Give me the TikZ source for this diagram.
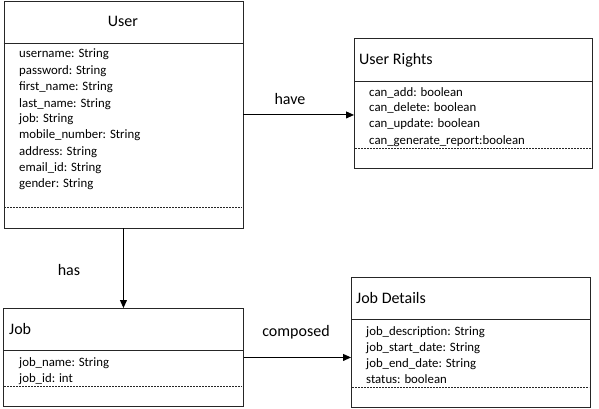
\documentclass[tikz,border=0pt]{standalone}
\usepackage{fontspec}
\setmainfont{Carlito}
\usetikzlibrary{arrows.meta}
\begin{document}
\begin{tikzpicture}[x=1pt,y=-1pt,
  umlbox/.style={draw=black!85, line width=0.9pt, rectangle, inner sep=0pt, anchor=north west},
  sepline/.style={draw=black!85, line width=0.9pt},
  dashsep/.style={draw=black!85, line width=0.8pt, dash pattern=on 2pt off 1pt},
  attr/.style={anchor=base west, inner sep=0pt, font=\fontsize{12.8}{14}\selectfont},
  title/.style={inner sep=0pt, font=\fontsize{16}{19}\selectfont},
  lbl/.style={anchor=base, inner sep=0pt, font=\fontsize{16}{19}\selectfont},
  arr/.style={draw=black, line width=0.9pt, -{Triangle[length=8pt,width=7pt]}}
]
\useasboundingbox (0,0) rectangle (599,409);

% User
\node[umlbox, minimum width=239pt, minimum height=226pt] (user) at (3.5,1.5) {};
\draw[sepline] (3.5,43) -- (242.5,43);
\draw[dashsep] (4,207) -- (242,207);
\node[title, anchor=base] (usert) at (123,27) {User};
\node[attr] (u1) at (19,58) {username: String};
\node[attr] (u2) at (19,75) {password: String};
\node[attr] (u3) at (19,91) {first\_name: String};
\node[attr] (u4) at (19,107) {last\_name: String};
\node[attr] (u5) at (19,123) {job: String};
\node[attr] (u6) at (19,139) {mobile\_number: String};
\node[attr] (u7) at (19,155) {address: String};
\node[attr] (u8) at (19,171) {email\_id: String};
\node[attr] (u9) at (19,187) {gender: String};

% User Rights
\node[umlbox, minimum width=238pt, minimum height=130pt] (rights) at (354,38) {};
\draw[sepline] (354,81) -- (592,81);
\draw[dashsep] (355,148) -- (591,148);
\node[title, anchor=base west] (rightst) at (359,65) {User Rights};
\node[attr] (r1) at (369,97) {can\_add: boolean};
\node[attr] (r2) at (369,112) {can\_delete: boolean};
\node[attr] (r3) at (369,128) {can\_update: boolean};
\node[attr] (r4) at (369,144) {can\_generate\_report:boolean};

% Job
\node[umlbox, minimum width=240pt, minimum height=98pt] (job) at (3,308) {};
\draw[sepline] (3,350) -- (243,350);
\draw[dashsep] (4,386) -- (242,386);
\node[title, anchor=base west] (jobt) at (9,334) {Job};
\node[attr] (j1) at (19,366) {job\_name: String};
\node[attr] (j2) at (19,382) {job\_id: int};

% Job Details
\node[umlbox, minimum width=239pt, minimum height=130pt] (details) at (351,277) {};
\draw[sepline] (351,319) -- (590,319);
\draw[dashsep] (352,387) -- (589,387);
\node[title, anchor=base west] (detailst) at (356,303) {Job Details};
\node[attr] (d1) at (366,335) {job\_description: String};
\node[attr] (d2) at (366,351) {job\_start\_date: String};
\node[attr] (d3) at (366,367) {job\_end\_date: String};
\node[attr] (d4) at (366,383) {status: boolean};

% connectors
\draw[arr] (user.east) -- (user.east -| rights.west);
\draw[arr] (user.south) -- (job.north);
\draw[arr] (job.east) -- (job.east -| details.west);

\node[lbl] (have) at (290,105) {have};
\node[lbl] (has) at (69,275) {has};
\node[lbl] (composed) at (296,336) {composed};
\end{tikzpicture}
\end{document}
